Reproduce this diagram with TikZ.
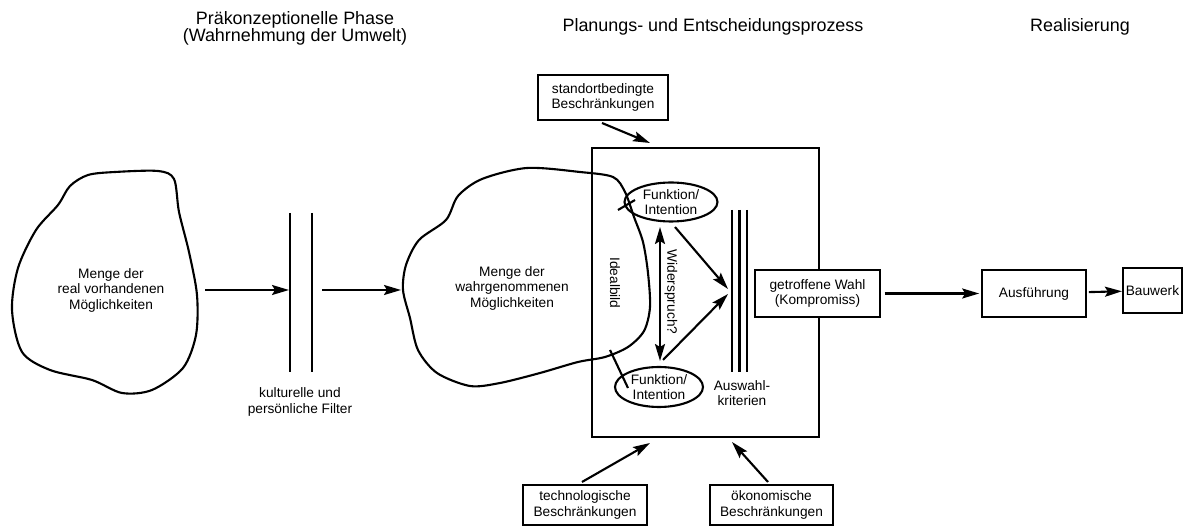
\documentclass[tikz,border=0pt]{standalone}
\usepackage{fontspec}
\setmainfont{Liberation Sans}
\usetikzlibrary{arrows.meta,shapes.geometric,positioning}

\tikzset{
  kasten/.style={draw,line width=1.2pt,fill=white,align=center,inner sep=1pt,font=\fontsize{7.8}{8.8}\selectfont},
  oval/.style={draw,ellipse,line width=1.2pt,inner sep=0pt,align=center,font=\fontsize{7.8}{8.8}\selectfont},
  klein/.style={align=center,font=\fontsize{7.8}{8.8}\selectfont},
  titel/.style={align=center,font=\fontsize{10.2}{9.8}\selectfont},
  pfeil/.style={line width=1.2pt,-{Stealth[length=3.4mm,width=2mm,inset=0.6mm]}},
  doppelpfeil/.style={line width=1.2pt,{Stealth[length=3.4mm,width=2mm,inset=0.6mm]}-{Stealth[length=3.4mm,width=2mm,inset=0.6mm]}},
  linie/.style={line width=1.2pt}
}

\begin{document}
\begin{tikzpicture}[x=0.02cm,y=-0.02cm]
\useasboundingbox (0,0) rectangle (1184,526);

% Ueberschriften
\node[titel] (phase1) at (295,28) {Präkonzeptionelle Phase\\(Wahrnehmung der Umwelt)};
\node[titel] (phase2) at (713,27) {Planungs- und Entscheidungsprozess};
\node[titel] (phase3) at (1080,27) {Realisierung};

% reale Moeglichkeiten
\draw[linie] plot[smooth cycle,tension=0.5] coordinates {(115,172) (158,171) (174,179) (179,212) (189,252) (197,295) (196,335) (183,368) (152,390) (122,393) (92,380) (50,370) (22,352) (12,310) (18,268) (36,230) (58,205) (70,186) (88,175)};
\node[klein] (real) at (111,290) {Menge der\\real vorhandenen\\Möglichkeiten};
\coordinate (realR) at (205,290);

% Filter
\draw[linie] (290,213) -- (290,372);
\draw[linie] (312,213) -- (312,372);
\coordinate (filterA) at (289,290);
\coordinate (filterB) at (322,290);
\node[klein] (filter) at (300,402) {kulturelle und\\persönliche Filter};

% Planungsrahmen
\node[draw,line width=1.2pt,minimum width=4.54cm,minimum height=5.78cm] (planung) at (705.5,292.5) {};

% wahrgenommene Moeglichkeiten + Idealbild
\draw[linie] plot[smooth cycle,tension=0.5] coordinates {(527,168) (580,172) (613,177) (625,192) (634,217) (643,242) (648,273) (650,307) (644,331) (628,347) (605,357) (578,362) (540,373) (500,383) (470,386) (437,373) (418,350) (410,318) (403,290) (406,265) (419,240) (446,220) (458,196) (482,179)};
\node[klein] (wahr) at (512,288) {Menge der\\wahrgenommenen\\Möglichkeiten};
\coordinate (wahrL) at (401,290);
\node[klein,rotate=-90] (ideal) at (615,283) {Idealbild};
\draw[linie] (618,210) -- (635,200);
\draw[linie] (610,350) -- (628,388);

% Funktion / Intention
\node[oval,minimum width=1.86cm,minimum height=0.78cm] (fktoben) at (671,202) {Funktion/\\Intention};
\node[oval,minimum width=1.76cm,minimum height=0.8cm] (fktunten) at (659,387) {Funktion/\\Intention};
\coordinate (widerO) at (660,227);
\coordinate (widerU) at (660,361);
\draw[doppelpfeil] (widerO) -- (widerU);
\node[klein,rotate=-90] (wider) at (671,292) {Widerspruch?};
\coordinate (zielO) at (728,289);
\coordinate (zielU) at (728,294);
\draw[pfeil] (675,227) -- (zielO);
\draw[pfeil] (663,360) -- (zielU);

% Auswahlkriterien
\foreach \x in {732,739.5,747}
  \draw[linie] (\x,210) -- (\x,372);
\node[klein] (auswahl) at (742,393) {Auswahl-\\kriterien};

% Beschraenkungen
\node[kasten,minimum width=2.6cm,minimum height=0.9cm] (standort) at (603,97.5) {standortbedingte\\Beschränkungen};
\node[kasten,minimum width=2.48cm,minimum height=0.8cm] (techno) at (585,505) {technologische\\Beschränkungen};
\node[kasten,minimum width=2.46cm,minimum height=0.8cm] (oekon) at (771.5,505) {ökonomische\\Beschränkungen};
\draw[pfeil] (602,123) -- (650,143);
\draw[pfeil] (582,482) -- (650,443);
\draw[pfeil] (768,482) -- (732,442);

% Realisierung
\node[kasten,minimum width=2.5cm,minimum height=0.94cm] (wahl) at (817.5,293.5) {getroffene Wahl\\(Kompromiss)};
\node[kasten,minimum width=2.08cm,minimum height=0.94cm] (ausf) at (1034,293.5) {Ausführung};
\node[kasten,minimum width=1.18cm,minimum height=0.9cm] (bau) at (1152.5,290.5) {Bauwerk};

\draw[pfeil] (realR) -- (filterA);
\draw[pfeil] (filterB) -- (wahrL);
\draw[pfeil,shorten <=2pt,shorten >=1pt] (wahl) -- (ausf);
\draw[pfeil,shorten <=1pt] (ausf) -- (bau);
\end{tikzpicture}
\end{document}
